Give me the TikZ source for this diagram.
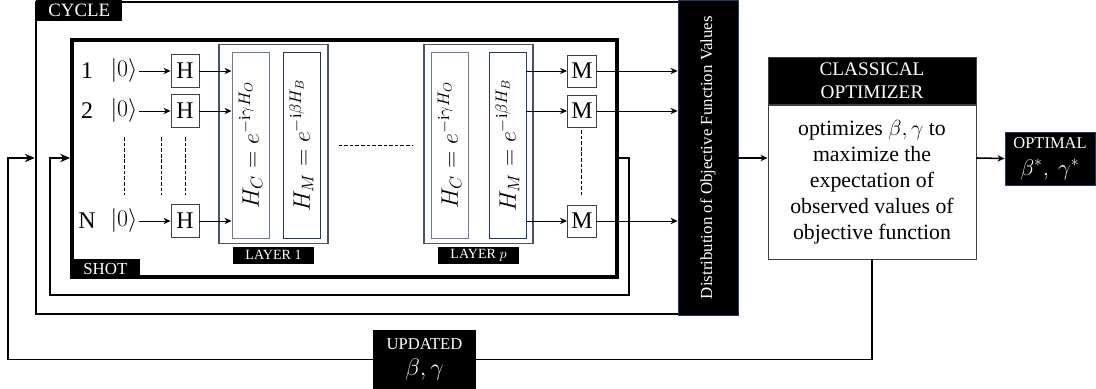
\RequirePackage{fix-cm}
\documentclass[tikz,border=0pt]{standalone}
\usepackage{fontspec}
\setmainfont{Liberation Serif}
\usepackage{graphicx}
\usetikzlibrary{arrows.meta,positioning,calc}
\definecolor{ink}{HTML}{000000}
\definecolor{gateline}{HTML}{404040}
\definecolor{slate}{HTML}{44546A}
\definecolor{steel}{HTML}{6A7C99}
\definecolor{navy}{HTML}{1F3864}
\tikzset{
  every node/.style={text=ink},
  big/.style={font=\fontsize{17}{20}\selectfont},
  lab/.style={big, inner sep=1pt},
  gate/.style={big, draw=gateline, line width=0.7pt, fill=white, minimum width=7mm, minimum height=8.25mm, inner sep=0pt},
  ham/.style={big, draw=#1, line width=0.7pt, minimum width=9.25mm, minimum height=46.5mm, inner sep=0pt},
  layerbox/.style={draw=slate, line width=0.8pt, minimum width=27.25mm, minimum height=49.75mm, inner sep=0pt},
  blk/.style={fill=black, text=white, inner sep=0pt},
  arr/.style={-{Stealth[length=5pt,width=4.5pt]}, line width=0.6pt},
  looparr/.style={-{Stealth[length=7pt,width=6pt]}, line width=0.9pt},
  dots/.style={dash pattern=on 2.6pt off 1.4pt, line width=0.7pt},
}

\begin{document}
\begin{tikzpicture}[x=0.25mm, y=-0.25mm]
  \useasboundingbox (0,0) rectangle (1096,389);
  % rows: y positions
  \def\ya{71} \def\yb{111} \def\yn{221} \def\ymid{158}
  \coordinate (mid) at (0,\ymid);

  % frames
  \node[draw, line width=1.8pt, minimum width=175.5mm, minimum height=78mm, inner sep=0pt] (cycle) at (387,158) {};
  \node[blk, minimum width=21.5mm, minimum height=5.25mm, anchor=north west, font=\fontsize{13.4}{15}\selectfont] (cyclelab) at (36,0) {CYCLE};
  \node[draw, line width=2.8pt, minimum width=136.25mm, minimum height=59.25mm, inner sep=0pt] (shot) at (344.5,158.5) {};
  \node[blk, minimum width=17.5mm, minimum height=5mm, anchor=south west, font=\fontsize{12}{14}\selectfont] (shotlab) at (shot.south west) {SHOT};

  % qubit rows
  \foreach \i/\y/\t in {1/\ya/1, 2/\yb/2, n/\yn/N} {
    \node[lab] (q\i) at (87,\y) {\t};
    \node[lab] (k\i) at (124,\y) {$|0\rangle$};
    \node[gate] (h\i) at (185,\y) {H};
    \node[gate, minimum width=7.25mm, minimum height=8mm] (m\i) at (582,\y) {M};
  }

  % layers
  \foreach \l/\x/\c/\m/\t in {1/273.5/250.5/301.5/1, p/478.5/449.5/507.5/$p$} {
    \node[layerbox] (layer\l) at (\x,144) {};
    \node[ham=steel] (hc\l) at (\c,145) {\rotatebox{90}{$H_C = e^{-\mathrm{i}\gamma H_O}$}};
    \node[ham=navy] (hm\l) at (\m,145) {\rotatebox{90}{$H_M = e^{-\mathrm{i}\beta H_B}$}};
    \node[blk, minimum width=20.25mm, minimum height=4.25mm, anchor=north, font=\fontsize{10}{12}\selectfont] (lab\l) at ([yshift=-0.6mm]layer\l.south) {LAYER \t};
  }

  % measurement collector
  \node[blk, draw=navy, line width=0.6pt, minimum width=15mm, minimum height=78.75mm, font=\fontsize{12}{14}\selectfont] (bar) at (708,157.5) {\rotatebox{90}{Distribution of Objective Function Values}};

  % optimizer
  \node[draw=gateline, line width=0.7pt, minimum width=52mm, minimum height=38.5mm, align=center, font=\fontsize{15.5}{18.5}\selectfont] (opt) at (872,182) {optimizes $\beta, \gamma$ to\\maximize the\\expectation of\\observed values of\\objective function};
  \node[blk, draw=gateline, line width=0.7pt, minimum width=52mm, minimum height=11.75mm, anchor=south, align=center, font=\fontsize{13.7}{16.4}\selectfont] (opthead) at (opt.north) {CLASSICAL\\OPTIMIZER};
  \node[blk, draw=navy, line width=0.6pt, minimum width=22.5mm, minimum height=13.25mm, align=center, font=\fontsize{16}{19}\selectfont] (optimal) at (1050,158.5) {{\fontsize{11.7}{14}\selectfont OPTIMAL}\\$\beta^*,\ \gamma^*$};
  \node[blk, minimum width=25.75mm, minimum height=14.75mm, align=center, font=\fontsize{17}{18.5}\selectfont] (upd) at (424.5,359.5) {{\fontsize{11.8}{14}\selectfont UPDATED}\\$\beta, \gamma$};

  % row arrows
  \foreach \i in {1,2,n} {
    \draw[arr] (k\i) -- (h\i);
    \draw[arr] (h\i) -- (h\i -| hc1.west);
    \draw[arr] (m\i -| hmp.east) -- (m\i);
    \draw[arr] (m\i) -- (m\i -| bar.west);
  }

  % continuation marks
  \foreach \x in {124,161,185} {
    \draw[dots] (\x,137) -- (\x,195);
  }
  \draw[dots] (581,130) -- (581,195);
  \draw[dots] ([xshift=2.5mm]layer1.east |- 0,145) -- ([xshift=-2.75mm]layerp.west |- 0,145);

  % shot loop
  \coordinate (ir) at (629,295);
  \coordinate (il) at (50,\ymid);
  \draw[looparr] (shot.east |- mid) -| (ir) -| (il) -- (shot.west |- mid);

  % cycle loop
  \coordinate (ol) at (8,\ymid);
  \draw[line width=1pt] (opt.south) |- (upd.east);
  \draw[looparr, line width=1pt] (upd.west) -| (ol) -- (cycle.west);

  % to optimizer and result
  \draw[arr, line width=1.1pt] (bar.east |- mid) -- (opt.west |- mid);
  \draw[arr, line width=1.1pt] (opt.east |- mid) -- (optimal.west);
\end{tikzpicture}
\end{document}
